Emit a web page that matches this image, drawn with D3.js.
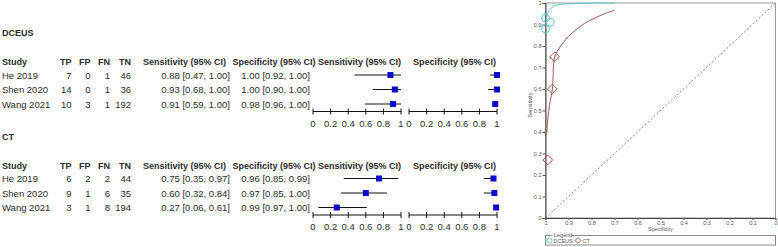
<!DOCTYPE html>
<html>
<head>
<meta charset="utf-8">
<script src="https://cdn.jsdelivr.net/npm/d3@7"></script>
<style>
  body { margin: 0; background: #fff; }
  svg { display: block; }
</style>
</head>
<body>
<svg width="778" height="247"></svg>
<script>
// ---- data ----
const studies = ['He 2019', 'Shen 2020', 'Wang 2021'];
const countCols = ['TP', 'FP', 'FN', 'TN'];

const dceusCounts = [[7, 0, 1, 46], [14, 0, 1, 36], [10, 3, 1, 192]];
const dceusSens = [0.88, 0.93, 0.91];
const dceusSensCI = [[0.47, 1.00], [0.68, 1.00], [0.59, 1.00]];
const dceusSpec = [1.00, 1.00, 0.98];
const dceusSpecCI = [[0.92, 1.00], [0.90, 1.00], [0.96, 1.00]];

const ctCounts = [[6, 2, 2, 44], [9, 1, 6, 35], [3, 1, 8, 194]];
const ctSens = [0.75, 0.60, 0.27];
const ctSensCI = [[0.35, 0.97], [0.32, 0.84], [0.06, 0.61]];
const ctSpec = [0.96, 0.97, 0.99];
const ctSpecCI = [[0.85, 0.99], [0.85, 1.00], [0.97, 1.00]];

const forestTicks = [0, 0.2, 0.4, 0.6, 0.8, 1];
const rocTicks = [0, 0.1, 0.2, 0.3, 0.4, 0.5, 0.6, 0.7, 0.8, 0.9, 1];

// SROC curves, [specificity, sensitivity]
const dceusCurve = [[0.998, 0.92], [0.985, 0.964], [0.966, 0.983], [0.944, 0.992], [0.87, 0.998], [0.78, 1.0], [0.70, 1.0]];
const ctCurve = [[0.995, 0.39], [0.99, 0.46], [0.982, 0.53], [0.97, 0.60], [0.96, 0.75], [0.94, 0.79], [0.90, 0.844], [0.83, 0.905], [0.756, 0.944], [0.70, 0.967]];

const svg = d3.select('svg');
svg.append('rect').attr('width', 778).attr('height', 247).attr('fill', '#fff');

const font = '"Liberation Sans", Arial, sans-serif';
const ink = '#2b2b2b';
const fmt2 = d3.format('.2f');

const sensX = d3.scaleLinear().domain([0, 1]).range([313, 401]);
const specX = d3.scaleLinear().domain([0, 1]).range([409, 497]);

const sections = [
  { name: 'DCEUS', top: 0, counts: dceusCounts, sens: dceusSens, sensCI: dceusSensCI, spec: dceusSpec, specCI: dceusSpecCI },
  { name: 'CT', top: 103.5, counts: ctCounts, sens: ctSens, sensCI: ctSensCI, spec: ctSpec, specCI: ctSpecCI }
];

const countRight = [71.5, 90.5, 110, 131];

sections.forEach(s => {
  const g = svg.append('g')
    .attr('transform', `translate(0,${s.top})`)
    .style('font-family', font)
    .attr('fill', ink);

  g.append('text').attr('x', 2).attr('y', 36)
    .style('font-size', '9px').style('font-weight', 'bold')
    .text(s.name);

  // header row
  const hy = 65;
  const hdr = g.append('g').style('font-size', '9px').style('font-weight', 'bold');
  hdr.append('text').attr('x', 2).attr('y', hy).text('Study');
  hdr.selectAll('text.cnt').data(countCols).enter().append('text')
    .attr('class', 'cnt')
    .attr('x', (d, i) => countRight[i]).attr('y', hy)
    .attr('text-anchor', 'end').text(d => d);
  hdr.append('text').attr('x', 143).attr('y', hy).text('Sensitivity (95% CI)');
  hdr.append('text').attr('x', 232.5).attr('y', hy).text('Specificity (95% CI)');
  hdr.append('text').attr('x', 318).attr('y', hy).text('Sensitivity (95% CI)');
  hdr.append('text').attr('x', 413).attr('y', hy).text('Specificity (95% CI)');

  const rowY = i => 75 + i * 14.5;

  const rows = g.selectAll('g.row').data(studies).enter().append('g')
    .attr('class', 'row')
    .attr('transform', (d, i) => `translate(0,${rowY(i)})`)
    .style('font-size', '9.5px');

  rows.append('text').attr('x', 2).attr('y', 3.5).text(d => d);
  rows.each(function (d, i) {
    const r = d3.select(this);
    s.counts[i].forEach((v, j) => {
      r.append('text').attr('x', countRight[j]).attr('y', 3.5).attr('text-anchor', 'end').text(v);
    });
    r.append('text').attr('x', 230).attr('y', 3.5).attr('text-anchor', 'end')
      .text(`${fmt2(s.sens[i])} [${fmt2(s.sensCI[i][0])}, ${fmt2(s.sensCI[i][1])}]`);
    r.append('text').attr('x', 310).attr('y', 3.5).attr('text-anchor', 'end')
      .text(`${fmt2(s.spec[i])} [${fmt2(s.specCI[i][0])}, ${fmt2(s.specCI[i][1])}]`);

    // CI lines and squares
    [[sensX, s.sens[i], s.sensCI[i]], [specX, s.spec[i], s.specCI[i]]].forEach(([sc, est, ci]) => {
      r.append('line').attr('x1', sc(ci[0])).attr('x2', sc(ci[1]))
        .attr('y1', 0).attr('y2', 0).attr('stroke', '#111').attr('stroke-width', 1);
      r.append('rect').attr('x', sc(est) - 3).attr('y', -3)
        .attr('width', 6).attr('height', 6).attr('fill', '#0a0ac8');
    });
  });

  // forest axes
  const ay = rowY(2) + 7.5;
  [sensX, specX].forEach(sc => {
    const ax = g.append('g').attr('transform', `translate(0,${ay})`);
    ax.append('line').attr('x1', sc(0)).attr('x2', sc(1)).attr('stroke', '#111');
    ax.selectAll('line.t').data(forestTicks).enter().append('line')
      .attr('class', 't')
      .attr('x1', d => sc(d)).attr('x2', d => sc(d))
      .attr('y1', -3).attr('y2', 3).attr('stroke', '#111');
    ax.selectAll('text').data(forestTicks).enter().append('text')
      .attr('x', d => sc(d)).attr('y', 15)
      .attr('text-anchor', 'middle').style('font-size', '9.5px')
      .text(d => d);
  });
});

// ---- SROC plot ----
const x = d3.scaleLinear().domain([1, 0]).range([545.5, 775.5]);
const y = d3.scaleLinear().domain([0, 1]).range([218, 3]);
const roc = svg.append('g').style('font-family', font);

roc.append('rect').attr('x', x(1)).attr('y', y(1))
  .attr('width', x(0) - x(1)).attr('height', y(0) - y(1))
  .attr('fill', 'none').attr('stroke', '#9a9a9a').attr('stroke-width', 1);

roc.append('line').attr('x1', x(1)).attr('y1', y(0)).attr('x2', x(0)).attr('y2', y(1))
  .attr('stroke', '#8a8a8a').attr('stroke-dasharray', '2,2');

const tickFmt = d => String(+d.toFixed(1));
const xAx = roc.append('g').attr('transform', `translate(0,${y(0)})`)
  .call(d3.axisBottom(x).tickValues(rocTicks).tickSize(2).tickPadding(1).tickFormat(tickFmt));
const yAx = roc.append('g').attr('transform', `translate(${x(1)},0)`)
  .call(d3.axisLeft(y).tickValues(rocTicks).tickSize(3).tickPadding(1).tickFormat(tickFmt));
[xAx, yAx].forEach(a => {
  a.select('.domain').attr('stroke', '#444');
  a.selectAll('.tick line').attr('stroke', '#555');
  a.selectAll('.tick text').attr('fill', '#555').style('font-size', '5.5px').style('font-family', font);
});

roc.append('text').attr('x', x(0.5)).attr('y', 231).attr('text-anchor', 'middle')
  .attr('fill', '#555').style('font-size', '5.5px').text('Specificity');
roc.append('text').attr('transform', `translate(532,105) rotate(-90)`).attr('text-anchor', 'middle')
  .attr('fill', '#555').style('font-size', '5.5px').text('Sensitivity');

const cyan = '#5cc8cc';
const brown = '#a4574f';
const line = d3.line().x(d => x(d[0])).y(d => y(d[1])).curve(d3.curveCatmullRom);

roc.append('path').attr('d', line(ctCurve)).attr('fill', 'none').attr('stroke', brown).attr('stroke-width', 1);
roc.append('path').attr('d', line(dceusCurve)).attr('fill', 'none').attr('stroke', cyan).attr('stroke-width', 1);

const diamond = d3.symbol().type(d3.symbolDiamond2).size(60);
roc.selectAll('path.ct').data(ctSens).enter().append('path')
  .attr('class', 'ct')
  .attr('transform', (d, i) => `translate(${x(ctSpec[i])},${y(d)})`)
  .attr('d', diamond).attr('fill', 'none').attr('stroke', brown).attr('stroke-width', 1);

roc.selectAll('circle.dc').data(dceusSens).enter().append('circle')
  .attr('class', 'dc')
  .attr('cx', (d, i) => x(dceusSpec[i])).attr('cy', d => y(d)).attr('r', 4)
  .attr('fill', 'none').attr('stroke', cyan).attr('stroke-width', 1);

// legend
const lg = roc.append('g');
lg.append('rect').attr('x', x(1)).attr('y', 235.5).attr('width', x(0) - x(1)).attr('height', 9.5)
  .attr('fill', 'none').attr('stroke', '#8a8a8a');
lg.append('rect').attr('x', 552.5).attr('y', 232).attr('width', 19).attr('height', 6).attr('fill', '#fff');
lg.append('text').attr('x', 554).attr('y', 237).attr('fill', '#555').style('font-size', '5.5px').text('Legend');
lg.append('circle').attr('cx', 549.5).attr('cy', 240.5).attr('r', 2.5).attr('fill', 'none').attr('stroke', cyan);
lg.append('text').attr('x', 553.5).attr('y', 242.5).attr('fill', '#555').style('font-size', '5.5px').text('DCEUS');
lg.append('path').attr('transform', 'translate(578,240.5)').attr('d', d3.symbol().type(d3.symbolDiamond2).size(22))
  .attr('fill', 'none').attr('stroke', brown);
lg.append('text').attr('x', 582.5).attr('y', 242.5).attr('fill', '#555').style('font-size', '5.5px').text('CT');
</script>
</body>
</html>
